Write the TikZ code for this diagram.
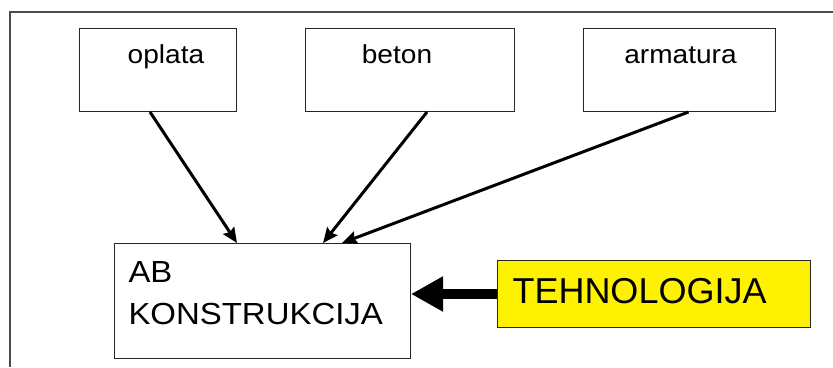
\documentclass[tikz,border=0pt]{standalone}
\usepackage{fontspec}
\setmainfont{Liberation Sans}
\newfontfamily\widesans[FakeStretch=1.08]{Liberation Sans}
\usetikzlibrary{arrows.meta}
\tikzset{
  part box/.style={draw=black!85, line width=1pt, anchor=north west, inner sep=0pt,
    text height=35pt, text depth=48pt, font=\widesans\fontsize{26}{30}\selectfont},
  thin arrow/.style={line width=3pt, -{Stealth[length=15pt, width=13pt, inset=2pt]}},
  thick arrow/.style={line width=10pt, -{Triangle[length=32pt, width=33pt]}}
}
\begin{document}
\begin{tikzpicture}[x=1pt, y=-1pt]
  \useasboundingbox (0,0) rectangle (833,367);
  \draw[gray!60!black, line width=1.3pt] (833,12) -- (10,12) -- (10,367);
  \node[part box, minimum width=157pt] (oplata) at (79,28) {\hspace*{16pt}oplata};
  \node[part box, minimum width=209pt] (beton) at (305,28) {beton\hspace*{26pt}};
  \node[part box, minimum width=192pt] (armatura) at (583,28) {\hspace*{2pt}armatura};
  \node[draw=black!85, line width=1pt, anchor=north west, inner xsep=14pt, inner ysep=18pt,
    text width=268pt, align=left, font=\widesans\fontsize{30.5}{41.7}\selectfont]
    (ab) at (114,243) {AB\\KONSTRUKCIJA\rule[-16.8pt]{0pt}{0pt}};
  \node[draw=black!85, line width=1pt, fill=yellow, anchor=north west, inner xsep=15pt,
    inner ysep=0pt, text width=283pt, align=left, text height=43pt, text depth=24pt,
    font=\fontsize{36}{43}\selectfont] (tech) at (497,260) {TEHNOLOGIJA};
  \foreach \source/\sx/\ex in {oplata/-8/123, beton/17/209, armatura/9/228}
    \draw[thin arrow] ([xshift=\sx pt]\source.south) -- ([xshift=\ex pt]ab.north west);
  \draw[thick arrow] (tech.west) -- (tech.west -| ab.east);
\end{tikzpicture}
\end{document}
